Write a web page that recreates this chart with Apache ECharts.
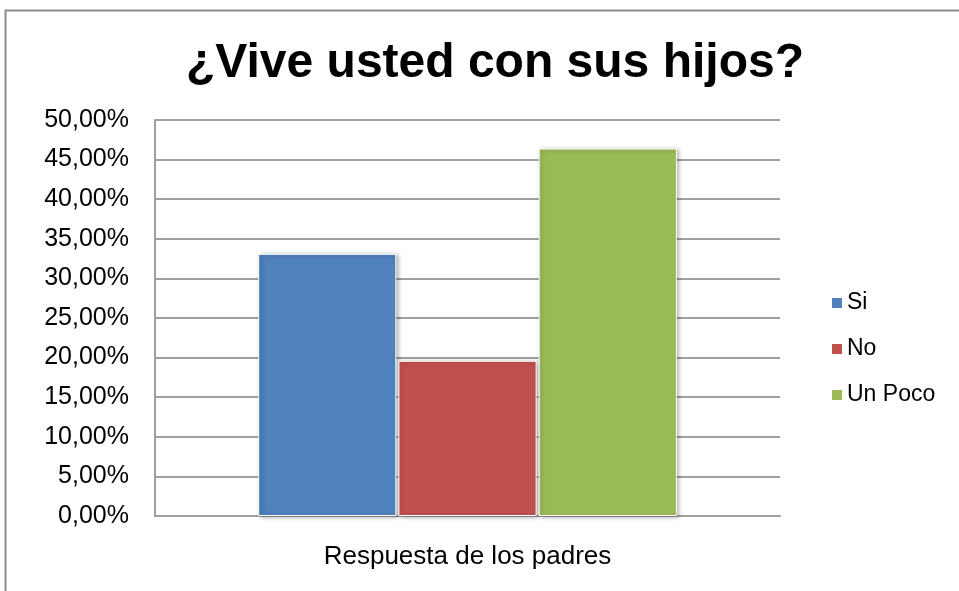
<!DOCTYPE html>
<html>
<head>
<meta charset="utf-8">
<script src="https://cdn.jsdelivr.net/npm/echarts@6/dist/echarts.min.js"></script>
<style>
  html, body { margin: 0; padding: 0; background: #fff; }
  #chart { width: 959px; height: 591px; }
</style>
</head>
<body>
<div id="chart"></div>
<script>
var categories = ['Respuesta de los padres'];
var seriesNames = ['Si', 'No', 'Un Poco'];
var seriesValues = [[33.1], [19.6], [46.4]];
var colors = ['#4f81bd', '#c0504d', '#9bbb59'];

var chart = echarts.init(document.getElementById('chart'));

var series = seriesNames.map(function (n, i) {
  return {
    name: n,
    type: 'bar',
    data: seriesValues[i],
    barGap: '1.5%',
    barCategoryGap: '33%',
    itemStyle: {
      color: colors[i],
      borderColor: '#ffffff',
      borderWidth: 1,
      shadowBlur: 4,
      shadowColor: 'rgba(0,0,0,0.3)',
      shadowOffsetX: 2,
      shadowOffsetY: 1
    }
  };
});

var option = {
  backgroundColor: '#ffffff',
  animation: false,
  title: {
    text: '¿Vive usted con sus hijos?',
    left: 490,
    top: 35,
    textAlign: 'center',
    textStyle: { fontFamily: 'Liberation Sans', fontSize: 48, fontWeight: 'bold', color: '#000' }
  },
  // marco gris del gráfico
  graphic: [{
    type: 'rect',
    shape: { x: 5.5, y: 10.5, width: 1000, height: 700 },
    style: { fill: 'none', stroke: '#8c8c8c', lineWidth: 2 },
    silent: true
  }],
  legend: {
    orient: 'vertical',
    left: 825,
    top: 285,
    itemWidth: 12,
    itemHeight: 12,
    itemGap: 20,
    icon: 'rect',
    textStyle: { fontFamily: 'Liberation Sans', fontSize: 23, lineHeight: 26, color: '#000', padding: [0, 0, 0, -1] },
    data: seriesNames
  },
  grid: { left: 155, right: 179, top: 120, bottom: 75 },
  xAxis: {
    type: 'category',
    data: categories,
    axisLine: { lineStyle: { color: '#a0a0a0', width: 2 } },
    axisTick: { show: false },
    axisLabel: { fontFamily: 'Liberation Sans', fontSize: 26, color: '#000', margin: 28 }
  },
  yAxis: {
    type: 'value',
    min: 0,
    max: 50,
    interval: 5,
    axisLine: { show: true, lineStyle: { color: '#a0a0a0', width: 2 } },
    axisTick: { show: false },
    splitLine: { lineStyle: { color: '#a0a0a0', width: 2 } },
    axisLabel: {
      fontFamily: 'Liberation Sans',
      fontSize: 25,
      color: '#000',
      margin: 26,
      formatter: function (v) { return v.toFixed(2).replace('.', ',') + '%'; }
    }
  },
  series: series
};

chart.setOption(option);
</script>
</body>
</html>
